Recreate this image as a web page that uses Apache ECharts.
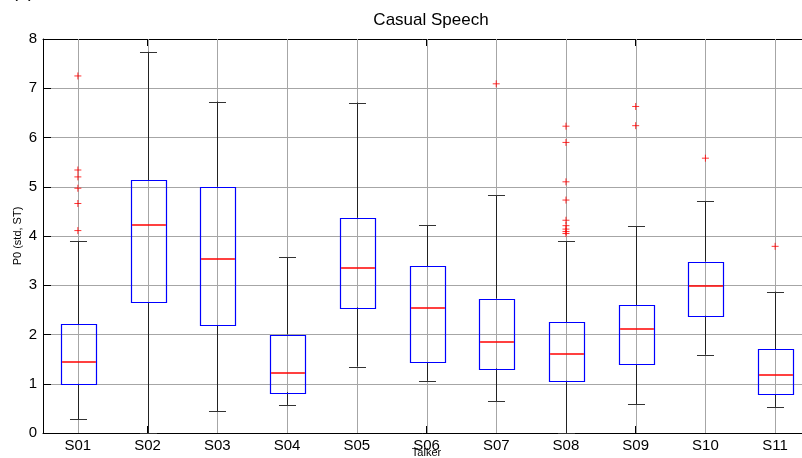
<!DOCTYPE html>
<html>
<head>
<meta charset="utf-8">
<style>
  html, body { margin: 0; padding: 0; background: #fff; }
  #chart { width: 802px; height: 458px; }
</style>
<script src="https://cdn.jsdelivr.net/npm/echarts@6/dist/echarts.min.js"></script>
</head>
<body>
<div id="chart"></div>
<script>
// Talkers and per-talker box statistics (P0 std, semitones)
const talkers = ['S01','S02','S03','S04','S05','S06','S07','S08','S09','S10','S11'];
const lowerWhisker = [0.28, 0.00, 0.44, 0.57, 1.35, 1.06, 0.65, 0.00, 0.58, 1.59, 0.53];
const quartile1    = [1.00, 2.65, 2.19, 0.83, 2.55, 1.44, 1.31, 1.06, 1.39, 2.38, 0.79];
const medians      = [1.45, 4.22, 3.53, 1.22, 3.36, 2.54, 1.84, 1.60, 2.12, 2.99, 1.17];
const quartile3    = [2.21, 5.13, 5.00, 2.00, 4.37, 3.39, 2.73, 2.25, 2.59, 3.48, 1.70];
const upperWhisker = [3.90, 7.74, 6.73, 3.57, 6.71, 4.22, 4.83, 3.89, 4.20, 4.71, 2.87];
const outliers = [
  [7.25, 5.34, 5.20, 4.97, 4.66, 4.11],
  [],
  [],
  [],
  [],
  [],
  [7.09],
  [6.23, 5.90, 5.10, 4.73, 4.32, 4.21, 4.14, 4.09, 4.05],
  [6.63, 6.24],
  [5.58],
  [3.79]
];
const yTicks = [0, 1, 2, 3, 4, 5, 6, 7, 8];

const boxData = talkers.map((t, i) =>
  [i, lowerWhisker[i], quartile1[i], medians[i], quartile3[i], upperWhisker[i]]);
const outlierData = [];
outliers.forEach((vals, i) => vals.forEach(v => outlierData.push([i, v])));

const FONT = '"Liberation Sans", Arial, sans-serif';

function renderBox(params, api) {
  const i = api.value(0);
  const step = api.size([1, 0])[0];
  const half = step * 0.25;
  const cap = step * 0.122;
  const pLo = api.coord([i, api.value(1)]);
  const pQ1 = api.coord([i, api.value(2)]);
  const pMed = api.coord([i, api.value(3)]);
  const pQ3 = api.coord([i, api.value(4)]);
  const pHi = api.coord([i, api.value(5)]);
  const gBot = api.coord([i, yTicks[0]]);
  const gTop = api.coord([i, yTicks[yTicks.length - 1]]);
  const x = Math.round(pMed[0]) + 0.5;
  const r = v => Math.round(v) + 0.5;
  const line = (x1, y1, x2, y2, color, w) => ({
    type: 'line',
    shape: { x1, y1, x2, y2 },
    style: { stroke: color, lineWidth: w || 1 }
  });
  const ym = Math.round(pMed[1]);
  return {
    type: 'group',
    children: [
      line(x, gBot[1], x, gTop[1], '#a6a6a6'),
      line(x, pQ3[1], x, pHi[1], '#222'),
      line(x, pLo[1], x, pQ1[1], '#222'),
      line(x - cap, r(pHi[1]), x + cap, r(pHi[1]), '#333'),
      line(x - cap, r(pLo[1]), x + cap, r(pLo[1]), '#333'),
      {
        type: 'rect',
        shape: { x: r(x - half), y: r(pQ3[1]), width: Math.round(half * 2), height: Math.round(pQ1[1] - pQ3[1]) },
        style: { fill: 'none', stroke: '#0000ff', lineWidth: 1.2 }
      },
      line(r(x - half) + 0.6, ym, r(x + half) - 0.6, ym, '#ff0000', 1.6)
    ]
  };
}

const chart = echarts.init(document.getElementById('chart'));
chart.setOption({
  animation: false,
  backgroundColor: '#fff',
  title: {
    text: 'Casual Speech',
    left: 426, top: 7,
    textAlign: 'center',
    textStyle: { fontFamily: FONT, fontSize: 17, fontWeight: 'normal', color: '#000' }
  },
  graphic: [{
    type: 'text', left: 12, top: -17,
    style: { text: '(b)', fontFamily: FONT, fontSize: 18, fill: '#000' }
  }],
  grid: { left: 43, right: -8, top: 39, bottom: 25, containLabel: false, outerBoundsMode: 'none' },
  xAxis: [{
    type: 'category',
    data: talkers,
    position: 'bottom',
    name: 'Talker',
    nameLocation: 'middle',
    nameGap: 14,
    nameMoveOverlap: false,
    nameTextStyle: { fontFamily: FONT, fontSize: 11, color: '#000', verticalAlign: 'top' },
    axisLine: { lineStyle: { color: '#000', width: 1 } },
    axisTick: { show: true, inside: true, alignWithLabel: true, length: 7, lineStyle: { color: '#000' } },
    axisLabel: { fontFamily: FONT, fontSize: 15, color: '#000', margin: 5 },
    splitLine: { show: false }
  }, {
    type: 'category',
    data: talkers,
    position: 'top',
    axisLine: { lineStyle: { color: '#000', width: 1 } },
    axisTick: { show: true, inside: true, alignWithLabel: true, length: 7, lineStyle: { color: '#000' } },
    axisLabel: { show: false },
    splitLine: { show: false }
  }],
  yAxis: {
    type: 'value',
    min: yTicks[0], max: yTicks[yTicks.length - 1], interval: 1,
    name: 'P0 (std, ST)',
    nameLocation: 'middle',
    nameGap: 20,
    nameMoveOverlap: false,
    nameTextStyle: { fontFamily: FONT, fontSize: 11, color: '#000' },
    axisLine: { show: true, lineStyle: { color: '#000', width: 1 } },
    axisTick: { show: true, inside: true, length: 8, lineStyle: { color: '#000' } },
    axisLabel: { fontFamily: FONT, fontSize: 15, color: '#000', margin: 6 },
    splitLine: { show: true, lineStyle: { color: '#a6a6a6', width: 1 } }
  },
  series: [{
    type: 'custom',
    renderItem: renderBox,
    data: boxData,
    encode: { x: 0, y: [1, 2, 3, 4, 5] },
    clip: false,
    z: 2
  }, {
    type: 'scatter',
    data: outlierData,
    symbol: 'path://M0,5L10,5M5,0L5,10',
    symbolSize: 7,
    itemStyle: { color: 'none', borderColor: '#ff0000', borderWidth: 1 },
    z: 3
  }]
});
</script>
</body>
</html>
